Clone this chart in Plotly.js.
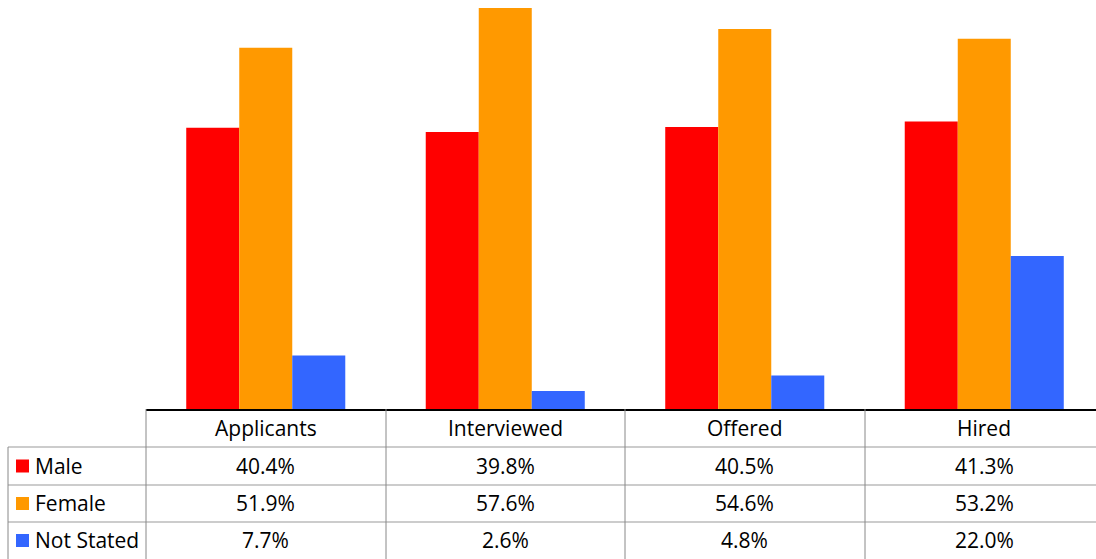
<!DOCTYPE html>
<html><head><meta charset="utf-8">
<script src="https://cdn.plot.ly/plotly-3.0.1.min.js"></script>
<style>html,body{margin:0;padding:0;background:#fff}#chart{width:1096px;height:559px}</style>
</head><body><div id="chart"></div>
<script>
const categories = ["Applicants", "Interviewed", "Offered", "Hired"];
const seriesNames = ["Male", "Female", "Not Stated"];
const male = [40.4, 39.8, 40.5, 41.3];
const female = [51.9, 57.6, 54.6, 53.2];
const notStated = [7.7, 2.6, 4.8, 22.0];
const colors = ["#FF0000", "#FF9900", "#3366FF"];

const W = 1096, H = 559;
const px = x => x / W;
const py = y => 1 - y / H;
const seriesVals = [male, female, notStated];

const traces = seriesVals.map((v, i) => ({
  type: "bar", x: categories, y: v, name: seriesNames[i],
  marker: {color: colors[i]}, hoverinfo: "x+y+name"
}));

const font = {family: "'Open Sans', Lato, sans-serif", size: 21, color: "#000"};
const shapes = [];
const annotations = [];
const rowTops = [409, 447, 485, 522, 559];
const colLines = [146, 386, 625, 865];
for (let r = 1; r < 4; r++) {
  shapes.push({type: "line", xref: "paper", yref: "paper", x0: px(8), x1: 1, y0: py(rowTops[r]), y1: py(rowTops[r]), line: {color: "#bbb", width: 1.5}});
}
colLines.forEach(x => shapes.push({type: "line", xref: "paper", yref: "paper", x0: px(x), x1: px(x), y0: py(409), y1: py(559), line: {color: "#888", width: 1}}));
shapes.push({type: "line", xref: "paper", yref: "paper", x0: px(8), x1: px(8), y0: py(447), y1: py(559), line: {color: "#888", width: 1}});
categories.forEach((c, j) => {
  annotations.push({xref: "x", yref: "paper", x: c, y: py(428), text: c, showarrow: false, font: font, xanchor: "center", yanchor: "middle"});
});
seriesNames.forEach((s, i) => {
  const yc = (rowTops[i + 1] + rowTops[i + 2]) / 2;
  shapes.push({type: "rect", xref: "paper", yref: "paper", x0: px(16), x1: px(29), y0: py(yc - 6.5), y1: py(yc + 6.5), fillcolor: colors[i], line: {width: 0}});
  annotations.push({xref: "paper", yref: "paper", x: px(33), y: py(yc - 0.5), text: s, showarrow: false, font: font, xanchor: "left", yanchor: "middle"});
  categories.forEach((c, j) => {
    annotations.push({xref: "x", yref: "paper", x: c, y: py(yc - 0.5), text: seriesVals[i][j].toFixed(1) + "%", showarrow: false, font: font, xanchor: "center", yanchor: "middle"});
  });
});

const layout = {
  width: W, height: H,
  margin: {l: 0, r: 0, t: 0, b: 0},
  paper_bgcolor: "#fff", plot_bgcolor: "#fff",
  showlegend: false,
  barmode: "group", bargap: 0.336, bargroupgap: 0,
  xaxis: {domain: [px(146), 1], range: [-0.5, 3.5 - 8 / 239.3], showticklabels: false, ticks: "", showline: true, linecolor: "#000", linewidth: 1.5, showgrid: false, zeroline: false, fixedrange: true},
  yaxis: {domain: [py(409), 1], range: [0, 409 / 6.96], visible: false, showgrid: false, zeroline: false, fixedrange: true},
  shapes: shapes, annotations: annotations
};
Plotly.newPlot("chart", traces, layout, {displayModeBar: false, staticPlot: true});
</script></body></html>
